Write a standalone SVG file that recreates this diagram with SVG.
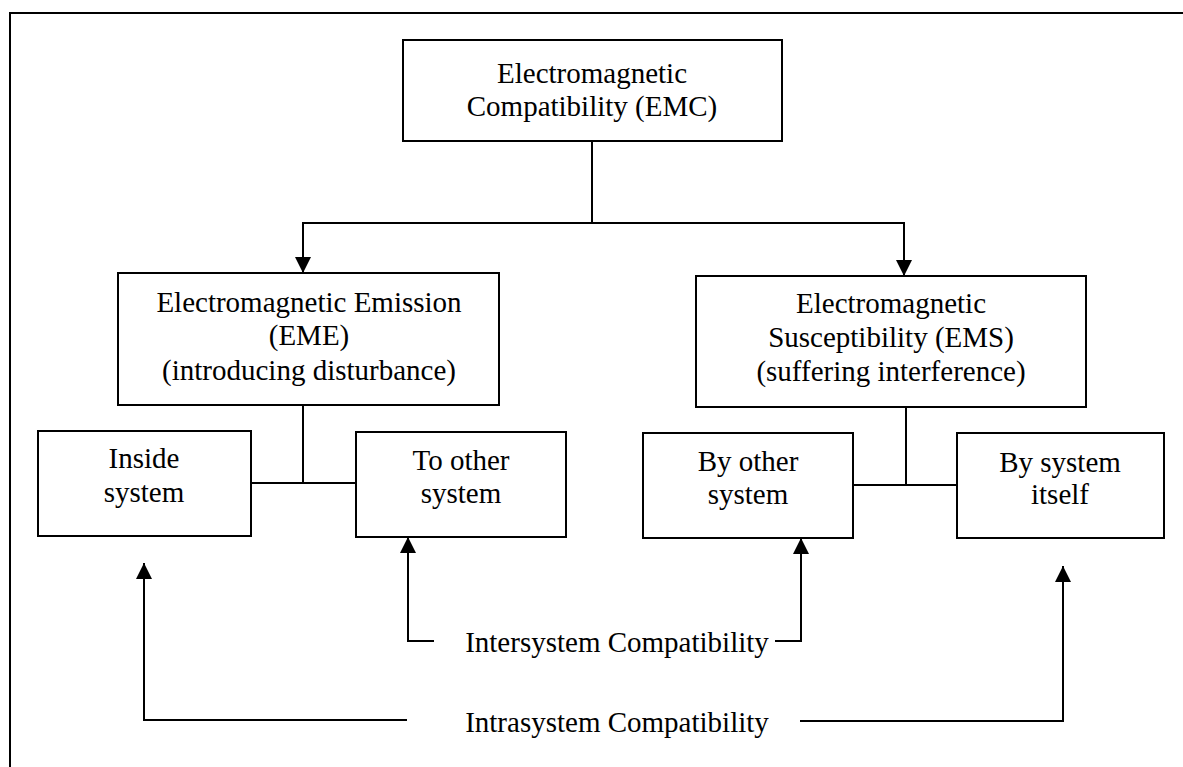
<svg xmlns="http://www.w3.org/2000/svg" width="1183" height="767" viewBox="0 0 1183 767">
<defs>
<style>
.box{fill:#fff;stroke:#000;stroke-width:2}
.ln{fill:none;stroke:#000;stroke-width:2}
.t{font-family:"Liberation Serif","Times New Roman",serif;font-size:29px;fill:#000;text-anchor:middle}
</style>
<marker id="ah" markerUnits="userSpaceOnUse" markerWidth="16" markerHeight="16" refX="16" refY="8" orient="auto">
<path d="M0,0 L16,8 L0,16 z" fill="#000"/>
</marker>
</defs>
<rect x="0" y="0" width="1183" height="767" fill="#fff"/>
<rect id="frame" x="10" y="13" width="1200" height="800" class="ln"/>
<g id="connectors">
<path class="ln" d="M592 141 V223"/>
<path class="ln" d="M592 223 H303 V273" marker-end="url(#ah)"/>
<path class="ln" d="M592 223 H904 V276" marker-end="url(#ah)"/>
<path class="ln" d="M303 405 V483"/>
<path class="ln" d="M251 483 H356"/>
<path class="ln" d="M906 407 V485"/>
<path class="ln" d="M853 485 H957"/>
<path class="ln" d="M434 641 H408 V537" marker-end="url(#ah)"/>
<path class="ln" d="M775 641 H801 V538" marker-end="url(#ah)"/>
<path class="ln" d="M407 720 H144 V563" marker-end="url(#ah)"/>
<path class="ln" d="M800 721 H1063 V566" marker-end="url(#ah)"/>
</g>
<g id="emc">
<rect class="box" x="403" y="40" width="379" height="101"/>
<text class="t" x="592" y="83">Electromagnetic</text>
<text class="t" x="592" y="116">Compatibility (EMC)</text>
</g>
<g id="eme">
<rect class="box" x="118" y="273" width="381" height="132"/>
<text class="t" x="309" y="312">Electromagnetic Emission</text>
<text class="t" x="309" y="345">(EME)</text>
<text class="t" x="309" y="380">(introducing disturbance)</text>
</g>
<g id="ems">
<rect class="box" x="696" y="276" width="390" height="131"/>
<text class="t" x="891" y="313">Electromagnetic</text>
<text class="t" x="891" y="347">Susceptibility (EMS)</text>
<text class="t" x="891" y="381">(suffering interference)</text>
</g>
<g id="inside">
<rect class="box" x="38" y="431" width="213" height="105"/>
<text class="t" x="144" y="468">Inside</text>
<text class="t" x="144" y="502">system</text>
</g>
<g id="toother">
<rect class="box" x="356" y="432" width="210" height="105"/>
<text class="t" x="461" y="470">To other</text>
<text class="t" x="461" y="503">system</text>
</g>
<g id="byother">
<rect class="box" x="643" y="433" width="210" height="105"/>
<text class="t" x="748" y="471">By other</text>
<text class="t" x="748" y="504">system</text>
</g>
<g id="byitself">
<rect class="box" x="957" y="433" width="207" height="105"/>
<text class="t" x="1060" y="472">By system</text>
<text class="t" x="1060" y="504">itself</text>
</g>
<g id="labels">
<text class="t" x="617" y="652">Intersystem Compatibility</text>
<text class="t" x="617" y="732">Intrasystem Compatibility</text>
</g>
</svg>
